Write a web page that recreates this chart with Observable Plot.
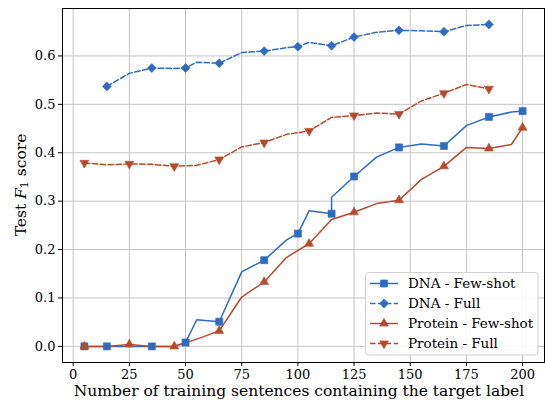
<!DOCTYPE html>
<html>
<head>
<meta charset="utf-8">
<script src="https://cdn.jsdelivr.net/npm/d3@7"></script>
<script src="https://cdn.jsdelivr.net/npm/@observablehq/plot@0.6"></script>
<style>
  html, body { margin: 0; padding: 0; background: #fff; }
  #chart svg { display: block; }
  #chart svg text { font-family: "DejaVu Serif", "Liberation Serif", serif !important; font-variant: normal !important; }
</style>
</head>
<body>
<div id="chart"></div>
<script>
// ---- Data ----
const xTicks = [0, 25, 50, 75, 100, 125, 150, 175, 200];
const yTicks = [0, 0.1, 0.2, 0.3, 0.4, 0.5, 0.6];
const seriesNames = ["DNA - Few-shot", "DNA - Full", "Protein - Few-shot", "Protein - Full"];

const dnaFewX = [5, 15, 25, 35, 45, 50, 55, 65, 75, 85, 95, 100, 105, 115, 115, 125, 135, 145, 155, 165, 175, 185, 195, 200];
const dnaFewY = [0, 0, 0, 0, 0, 0.008, 0.055, 0.051, 0.154, 0.178, 0.22, 0.233, 0.28, 0.274, 0.308, 0.351, 0.391, 0.411, 0.418, 0.414, 0.456, 0.474, 0.484, 0.486];
const dnaFewM = [1, 1, 0, 1, 0, 1, 0, 1, 0, 1, 0, 1, 0, 1, 0, 1, 0, 1, 0, 1, 0, 1, 0, 1];

const dnaFullX = [15, 25, 35, 45, 50, 55, 65, 75, 85, 95, 100, 105, 115, 125, 135, 145, 155, 165, 175, 185];
const dnaFullY = [0.537, 0.564, 0.575, 0.574, 0.575, 0.587, 0.585, 0.607, 0.61, 0.617, 0.619, 0.628, 0.621, 0.639, 0.649, 0.653, 0.652, 0.650, 0.663, 0.665];
const dnaFullM = [1, 0, 1, 0, 1, 0, 1, 0, 1, 0, 1, 0, 1, 1, 0, 1, 0, 1, 0, 1];

const protFewX = [5, 15, 25, 35, 45, 55, 65, 75, 85, 95, 105, 115, 125, 135, 145, 155, 165, 175, 185, 195, 200];
const protFewY = [0, 0, 0.004, 0, 0, 0.015, 0.032, 0.102, 0.133, 0.184, 0.212, 0.262, 0.277, 0.295, 0.302, 0.345, 0.372, 0.411, 0.409, 0.417, 0.452];
const protFewM = [1, 0, 1, 0, 1, 0, 1, 0, 1, 0, 1, 0, 1, 0, 1, 0, 1, 0, 1, 0, 1];

const protFullX = [5, 15, 25, 35, 45, 55, 65, 75, 85, 95, 105, 115, 125, 135, 145, 155, 165, 175, 185];
const protFullY = [0.379, 0.375, 0.377, 0.376, 0.372, 0.374, 0.386, 0.412, 0.421, 0.438, 0.445, 0.473, 0.477, 0.482, 0.480, 0.507, 0.523, 0.541, 0.532];
const protFullM = [1, 0, 1, 0, 1, 0, 1, 0, 1, 0, 1, 0, 1, 0, 1, 0, 1, 0, 1];

// ---- Styling ----
const BLUE = "#2e6cc3";
const RED = "#b64a2c";
const FONT = "DejaVu Serif, Liberation Serif, serif";
const DASH = "5.5,2.4";

const toRows = (xs, ys, ms) => xs.map((x, i) => ({x, y: ys[i], m: ms[i]}));
const dnaFew = toRows(dnaFewX, dnaFewY, dnaFewM);
const dnaFull = toRows(dnaFullX, dnaFullY, dnaFullM);
const protFew = toRows(protFewX, protFewY, protFewM);
const protFull = toRows(protFullX, protFullY, protFullM);
const mk = rows => rows.filter(d => d.m);

const series = [
  {name: seriesNames[0], data: dnaFew, color: BLUE, dash: null, symbol: "square", r: 4.0, rotate: 0},
  {name: seriesNames[1], data: dnaFull, color: BLUE, dash: DASH, symbol: "diamond2", r: 4.0, rotate: 0},
  {name: seriesNames[2], data: protFew, color: RED, dash: null, symbol: "triangle", r: 3.3, rotate: 0},
  {name: seriesNames[3], data: protFull, color: RED, dash: DASH, symbol: "triangle", r: 3.3, rotate: 180}
];

const marks = [
  Plot.gridX(xTicks, {stroke: "#c4c4c4", strokeOpacity: 1, strokeWidth: 1}),
  Plot.gridY(yTicks, {stroke: "#c4c4c4", strokeOpacity: 1, strokeWidth: 1})
];
for (const s of series) {
  marks.push(Plot.line(s.data, {x: "x", y: "y", stroke: s.color, strokeWidth: 1.5, strokeDasharray: s.dash}));
}
for (const s of series) {
  marks.push(Plot.dot(mk(s.data), {x: "x", y: "y", symbol: s.symbol, r: s.r, fill: s.color, stroke: s.color, strokeOpacity: 0.6, strokeWidth: 1, rotate: s.rotate}));
}
marks.push(
  Plot.axisX({ticks: xTicks, tickSize: 4, tickPadding: 3, tickFormat: d => String(d), label: null, fontSize: 13, fontFamily: FONT, stroke: "#000", fill: "#000"}),
  Plot.axisY({ticks: yTicks, tickSize: 4, tickPadding: 3, tickFormat: d3.format(".1f"), label: null, fontSize: 13, fontFamily: FONT, stroke: "#000", fill: "#000"}),
  Plot.frame({stroke: "#000", strokeWidth: 1})
);

const W = 545, H = 403;
const mL = 62, mR = 1, mT = 8, mB = 41;
const chart = Plot.plot({
  width: W,
  height: H,
  marginLeft: mL,
  marginRight: mR,
  marginTop: mT,
  marginBottom: mB,
  style: {fontFamily: FONT, fontSize: "13px", color: "#000", background: "#fff", overflow: "visible"},
  x: {domain: [-4.75, 209.75]},
  y: {domain: [-0.0333, 0.698]},
  marks
});
document.getElementById("chart").appendChild(chart);

// ---- Axis labels and legend (layout text) ----
const svg = d3.select(chart);
svg.attr("font-family", FONT);
svg.selectAll("text").style("font-family", FONT).style("font-variant", "normal");
const plotW = W - mL - mR, plotH = H - mT - mB;

svg.append("text")
  .attr("x", 299)
  .attr("y", H - 7)
  .attr("text-anchor", "middle")
  .attr("font-family", FONT)
  .attr("font-size", 15.5)
  .attr("fill", "#000")
  .text("Number of training sentences containing the target label");

const yl = svg.append("text")
  .attr("transform", `translate(${22},${mT + plotH / 2}) rotate(-90)`)
  .attr("text-anchor", "middle")
  .attr("dominant-baseline", "middle")
  .attr("font-family", FONT)
  .attr("font-size", 15.5)
  .attr("fill", "#000");
yl.append("tspan").text("Test ");
yl.append("tspan").attr("font-style", "italic").text("F");
yl.append("tspan").attr("font-size", 11).attr("dy", 3).text("1");
yl.append("tspan").attr("dy", -3).text(" score");

// legend
const lg = svg.append("g").attr("text-anchor", "start");
const lx = 365.5, ly = 272.5, lw = 172.5, lh = 82.5;
lg.append("rect").attr("x", lx).attr("y", ly).attr("width", lw).attr("height", lh)
  .attr("rx", 3).attr("fill", "#fff").attr("fill-opacity", 0.85)
  .attr("stroke", "#d0d0d0").attr("stroke-width", 1);
series.forEach((s, i) => {
  const cy = 283.5 + i * 20;
  const ln = lg.append("line").attr("x1", 370).attr("x2", 398).attr("y1", cy).attr("y2", cy)
    .attr("stroke", s.color).attr("stroke-width", 1.5);
  if (s.dash) ln.attr("stroke-dasharray", s.dash);
  const sym = {square: d3.symbolSquare, diamond2: d3.symbolDiamond2, triangle: d3.symbolTriangle}[s.symbol];
  lg.append("path").attr("d", d3.symbol(sym, s.r * s.r * Math.PI)())
    .attr("transform", `translate(384,${cy}) rotate(${s.rotate})`)
    .attr("fill", s.color).attr("stroke", s.color).attr("stroke-opacity", 0.6);
  lg.append("text").attr("x", 408).attr("y", cy).attr("dy", "0.35em")
    .attr("text-anchor", "start")
    .attr("font-family", FONT).attr("font-size", 13.5).attr("fill", "#000")
    .text(s.name);
});
</script>
</body>
</html>
